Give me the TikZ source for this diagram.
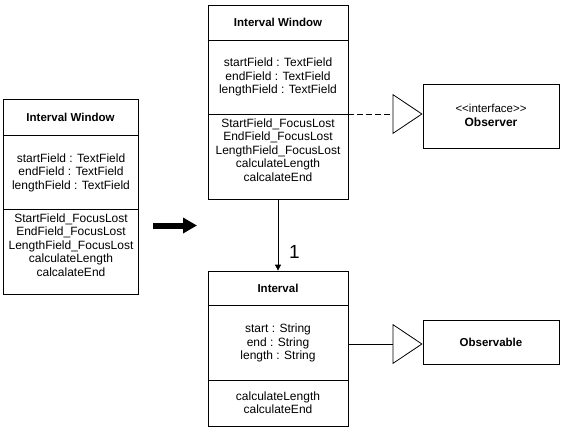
\documentclass[tikz,border=0pt]{standalone}
\usepackage{fontspec}
\setmainfont{Liberation Sans}
\usetikzlibrary{arrows.meta}
\begin{document}
\begin{tikzpicture}[x=1pt,y=-1pt,line width=0.8pt,
  box/.style={draw,rectangle,inner sep=0pt},
  txt/.style={align=center,inner sep=0pt,font=\fontsize{12}{13.5}\selectfont},
  hdr/.style={inner sep=0pt,font=\fontsize{11.5}{13}\selectfont\bfseries},
  realize/.style={-{Triangle[open,length=30pt,width=40pt]}},
]
\useasboundingbox (0,0) rectangle (564,428);
% left window
\node[box,minimum width=135pt,minimum height=195pt] (lw) at (70.5,196.5) {};
\draw (lw.west |- 0,135) -- (lw.east |- 0,135);
\draw (lw.west |- 0,209) -- (lw.east |- 0,209);
\node[hdr] (lwh) at (70.5,117) {Interval Window};
\node[txt] (lwa) at (71,172.5) {startField : TextField\\endField : TextField\\lengthField : TextField};
\node[txt] (lwm) at (71,245) {StartField\_FocusLost\\EndField\_FocusLost\\LengthField\_FocusLost\\calculateLength\\calcalateEnd};
% middle window
\node[box,minimum width=140pt,minimum height=194pt] (iw) at (278,102) {};
\draw (iw.west |- 0,40) -- (iw.east |- 0,40);
\draw (iw.west |- 0,114) -- (iw.east |- 0,114);
\node[hdr] (iwh) at (278,22.5) {Interval Window};
\node[txt] (iwa) at (278,77) {startField : TextField\\endField : TextField\\lengthField : TextField};
\node[txt] (iwm) at (278,150) {StartField\_FocusLost\\EndField\_FocusLost\\LengthField\_FocusLost\\calculateLength\\calcalateEnd};
% interval
\node[box,minimum width=140pt,minimum height=155pt] (iv) at (278,348.5) {};
\draw (iv.west |- 0,305) -- (iv.east |- 0,305);
\draw (iv.west |- 0,380) -- (iv.east |- 0,380);
\node[hdr] (ivh) at (278,288) {Interval};
\node[txt] (iva) at (278,343) {start : String\\end : String\\length : String};
\node[txt] (ivm) at (278,402.5) {calculateLength\\calculateEnd};
% observer
\node[box,minimum width=136pt,minimum height=64pt] (ob) at (491,116) {};
\node[txt] (obt) at (491,115.5) {\fontsize{11.5}{17}\selectfont\textless{}\textless{}interface\textgreater{}\textgreater\\\bfseries Observer};
% observable
\node[box,minimum width=136pt,minimum height=44pt] (obl) at (491,342) {};
\node[hdr] (oblt) at (491,342) {Observable};
% connectors
\draw[realize,dash pattern=on 6pt off 3pt] (iw.east |- 0,114) -- ([yshift=2pt]ob.west);
\draw[realize] (iv.east |- 0,344) -- ([yshift=-2pt]obl.west);
\draw[-{Triangle[length=6pt,width=6pt]}] (iw.south) -- (iv.north);
\node[inner sep=0pt,font=\fontsize{19}{19}\selectfont] (one) at (294.5,252) {1};
\coordinate (a1) at (153,225.5);
\coordinate (a2) at (197,225.5);
\draw[line width=6pt,-{Triangle[length=14pt,width=15pt]}] (a1) -- (a2);
\end{tikzpicture}
\end{document}
